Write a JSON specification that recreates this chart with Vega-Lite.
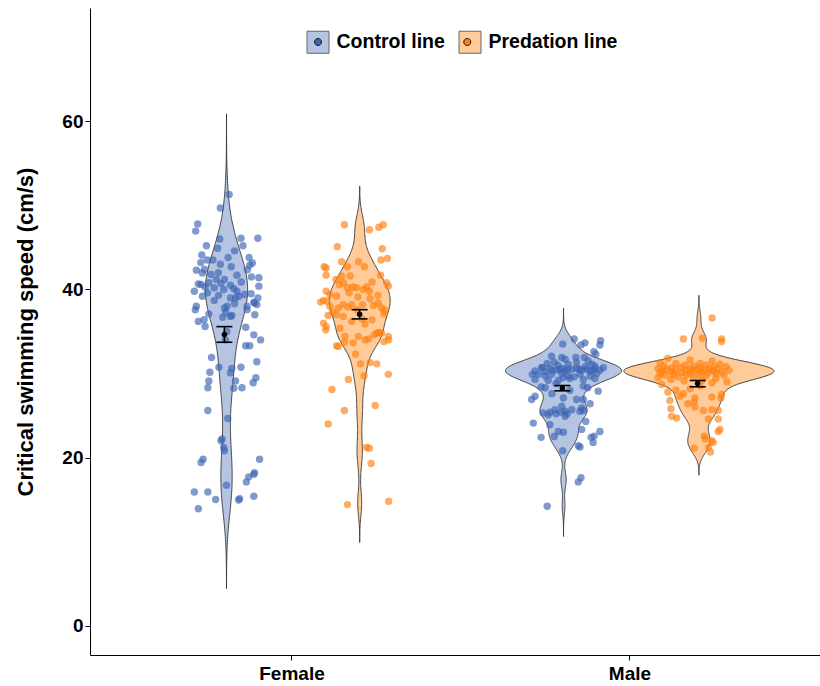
{
"$schema": "https://vega.github.io/schema/vega-lite/v6.json",
"width": 730, "height": 647,
"autosize": {"type": "none"},
"padding": {"left": 90, "top": 8, "right": 0, "bottom": 31},
"config": {"view": {"stroke": null}, "font": "Liberation Sans",
  "axisY": {"grid": false, "domainColor": "black", "tickColor": "black", "tickSize": 5, "labelFont": "Liberation Sans", "labelFontWeight": "bold", "labelFontSize": 19, "labelColor": "black", "labelPadding": 2, "titleFont": "Liberation Sans", "titleFontWeight": "bold", "titleFontSize": 22, "titleColor": "black", "titlePadding": 24}},
"data": {"values": [
{"sex":"Female","line":"Control line","speed":51.3,"jitter":0.014},{"sex":"Female","line":"Control line","speed":49.7,"jitter":-0.012},{"sex":"Female","line":"Control line","speed":47.8,"jitter":-0.079},{"sex":"Female","line":"Control line","speed":46.95,"jitter":-0.085},{"sex":"Female","line":"Control line","speed":46.1,"jitter":0.099},{"sex":"Female","line":"Control line","speed":46.1,"jitter":0.049},{"sex":"Female","line":"Control line","speed":46.0,"jitter":-0.014},{"sex":"Female","line":"Control line","speed":45.2,"jitter":-0.053},{"sex":"Female","line":"Control line","speed":45.2,"jitter":0.055},{"sex":"Female","line":"Control line","speed":44.1,"jitter":-0.067},
{"sex":"Female","line":"Control line","speed":43.8,"jitter":0.011},{"sex":"Female","line":"Control line","speed":43.8,"jitter":0.073},{"sex":"Female","line":"Control line","speed":43.5,"jitter":-0.034},{"sex":"Female","line":"Control line","speed":43.5,"jitter":-0.051},{"sex":"Female","line":"Control line","speed":43.15,"jitter":0.083},{"sex":"Female","line":"Control line","speed":42.9,"jitter":0.075},{"sex":"Female","line":"Control line","speed":43.0,"jitter":-0.012},{"sex":"Female","line":"Control line","speed":42.3,"jitter":-0.083},{"sex":"Female","line":"Control line","speed":42.4,"jitter":-0.059},{"sex":"Female","line":"Control line","speed":42.35,"jitter":0.068},
{"sex":"Female","line":"Control line","speed":41.96,"jitter":-0.065},{"sex":"Female","line":"Control line","speed":42.0,"jitter":-0.018},{"sex":"Female","line":"Control line","speed":41.4,"jitter":0.102},{"sex":"Female","line":"Control line","speed":41.7,"jitter":0.037},{"sex":"Female","line":"Control line","speed":41.2,"jitter":-0.024},{"sex":"Female","line":"Control line","speed":41.2,"jitter":0.0},{"sex":"Female","line":"Control line","speed":40.66,"jitter":-0.077},{"sex":"Female","line":"Control line","speed":40.8,"jitter":-0.046},{"sex":"Female","line":"Control line","speed":40.6,"jitter":-0.069},{"sex":"Female","line":"Control line","speed":40.5,"jitter":0.018},
{"sex":"Female","line":"Control line","speed":40.3,"jitter":-0.057},{"sex":"Female","line":"Control line","speed":40.4,"jitter":0.102},{"sex":"Female","line":"Control line","speed":40.1,"jitter":0.028},{"sex":"Female","line":"Control line","speed":40.2,"jitter":-0.03},{"sex":"Female","line":"Control line","speed":40.0,"jitter":-0.002},{"sex":"Female","line":"Control line","speed":39.8,"jitter":0.037},{"sex":"Female","line":"Control line","speed":39.8,"jitter":-0.089},{"sex":"Female","line":"Control line","speed":39.2,"jitter":-0.065},{"sex":"Female","line":"Control line","speed":39.0,"jitter":0.018},{"sex":"Female","line":"Control line","speed":39.0,"jitter":0.033},
{"sex":"Female","line":"Control line","speed":39.5,"jitter":0.079},{"sex":"Female","line":"Control line","speed":39.0,"jitter":0.099},{"sex":"Female","line":"Control line","speed":38.5,"jitter":0.087},{"sex":"Female","line":"Control line","speed":39.2,"jitter":0.043},{"sex":"Female","line":"Control line","speed":39.3,"jitter":-0.017},{"sex":"Female","line":"Control line","speed":38.0,"jitter":-0.083},{"sex":"Female","line":"Control line","speed":38.0,"jitter":0.008},{"sex":"Female","line":"Control line","speed":38.0,"jitter":0.067},{"sex":"Female","line":"Control line","speed":37.6,"jitter":-0.086},{"sex":"Female","line":"Control line","speed":37.1,"jitter":-0.046},
{"sex":"Female","line":"Control line","speed":37.3,"jitter":0.004},{"sex":"Female","line":"Control line","speed":36.9,"jitter":0.022},{"sex":"Female","line":"Control line","speed":36.7,"jitter":-0.005},{"sex":"Female","line":"Control line","speed":36.8,"jitter":0.018},{"sex":"Female","line":"Control line","speed":37.6,"jitter":0.067},{"sex":"Female","line":"Control line","speed":38.4,"jitter":0.089},{"sex":"Female","line":"Control line","speed":38.2,"jitter":0.096},{"sex":"Female","line":"Control line","speed":36.2,"jitter":-0.077},{"sex":"Female","line":"Control line","speed":35.6,"jitter":-0.057},{"sex":"Female","line":"Control line","speed":35.5,"jitter":0.063},
{"sex":"Female","line":"Control line","speed":35.0,"jitter":0.007},{"sex":"Female","line":"Control line","speed":34.0,"jitter":0.003},{"sex":"Female","line":"Control line","speed":34.6,"jitter":0.087},{"sex":"Female","line":"Control line","speed":34.0,"jitter":0.107},{"sex":"Female","line":"Control line","speed":33.3,"jitter":0.063},{"sex":"Female","line":"Control line","speed":33.3,"jitter":0.075},{"sex":"Female","line":"Control line","speed":31.9,"jitter":-0.038},{"sex":"Female","line":"Control line","speed":30.75,"jitter":-0.016},{"sex":"Female","line":"Control line","speed":31.4,"jitter":0.096},{"sex":"Female","line":"Control line","speed":30.75,"jitter":0.049},
{"sex":"Female","line":"Control line","speed":30.6,"jitter":0.022},{"sex":"Female","line":"Control line","speed":30.1,"jitter":0.018},{"sex":"Female","line":"Control line","speed":30.15,"jitter":-0.043},{"sex":"Female","line":"Control line","speed":29.1,"jitter":0.033},{"sex":"Female","line":"Control line","speed":28.25,"jitter":0.028},{"sex":"Female","line":"Control line","speed":29.1,"jitter":-0.046},{"sex":"Female","line":"Control line","speed":28.3,"jitter":-0.049},{"sex":"Female","line":"Control line","speed":29.5,"jitter":0.093},{"sex":"Female","line":"Control line","speed":28.9,"jitter":0.085},{"sex":"Female","line":"Control line","speed":28.3,"jitter":0.052},
{"sex":"Female","line":"Control line","speed":25.6,"jitter":-0.049},{"sex":"Female","line":"Control line","speed":24.65,"jitter":0.01},{"sex":"Female","line":"Control line","speed":22.2,"jitter":-0.007},{"sex":"Female","line":"Control line","speed":22.0,"jitter":-0.01},{"sex":"Female","line":"Control line","speed":21.2,"jitter":-0.002},{"sex":"Female","line":"Control line","speed":20.8,"jitter":0.0},{"sex":"Female","line":"Control line","speed":19.8,"jitter":-0.063},{"sex":"Female","line":"Control line","speed":19.4,"jitter":-0.069},{"sex":"Female","line":"Control line","speed":19.8,"jitter":0.104},{"sex":"Female","line":"Control line","speed":18.0,"jitter":0.087},
{"sex":"Female","line":"Control line","speed":17.7,"jitter":0.072},{"sex":"Female","line":"Control line","speed":17.1,"jitter":0.065},{"sex":"Female","line":"Control line","speed":18.2,"jitter":0.089},{"sex":"Female","line":"Control line","speed":16.7,"jitter":0.006},{"sex":"Female","line":"Control line","speed":15.9,"jitter":-0.089},{"sex":"Female","line":"Control line","speed":15.9,"jitter":-0.049},{"sex":"Female","line":"Control line","speed":15.0,"jitter":-0.026},{"sex":"Female","line":"Control line","speed":14.95,"jitter":0.042},{"sex":"Female","line":"Control line","speed":15.1,"jitter":0.045},{"sex":"Female","line":"Control line","speed":15.4,"jitter":0.087},{"sex":"Female","line":"Control line","speed":13.9,"jitter":-0.077},
{"sex":"Female","line":"Control line","speed":44.6,"jitter":0.03},{"sex":"Female","line":"Control line","speed":43.2,"jitter":-0.07},{"sex":"Female","line":"Control line","speed":42.7,"jitter":0.02},{"sex":"Female","line":"Control line","speed":41.8,"jitter":-0.04},{"sex":"Female","line":"Control line","speed":41.5,"jitter":0.08},{"sex":"Female","line":"Control line","speed":40.9,"jitter":0.05},{"sex":"Female","line":"Control line","speed":40.7,"jitter":-0.01},{"sex":"Female","line":"Control line","speed":39.6,"jitter":-0.05},{"sex":"Female","line":"Control line","speed":39.4,"jitter":0.06},{"sex":"Female","line":"Control line","speed":38.7,"jitter":-0.03},
{"sex":"Female","line":"Control line","speed":38.3,"jitter":0.03},{"sex":"Female","line":"Control line","speed":37.8,"jitter":0.0},{"sex":"Female","line":"Control line","speed":37.0,"jitter":0.09},{"sex":"Female","line":"Control line","speed":36.4,"jitter":-0.06},{"sex":"Female","line":"Control line","speed":44.9,"jitter":-0.02},

{"sex":"Female","line":"Predation line","speed":47.7,"jitter":-0.045},{"sex":"Female","line":"Predation line","speed":47.1,"jitter":0.029},{"sex":"Female","line":"Predation line","speed":47.4,"jitter":0.057},{"sex":"Female","line":"Predation line","speed":47.7,"jitter":0.07},{"sex":"Female","line":"Predation line","speed":45.1,"jitter":-0.066},{"sex":"Female","line":"Predation line","speed":44.85,"jitter":0.067},{"sex":"Female","line":"Predation line","speed":43.5,"jitter":0.063},{"sex":"Female","line":"Predation line","speed":43.7,"jitter":0.082},{"sex":"Female","line":"Predation line","speed":43.3,"jitter":-0.053},{"sex":"Female","line":"Predation line","speed":43.3,"jitter":-0.003},
{"sex":"Female","line":"Predation line","speed":42.7,"jitter":-0.105},{"sex":"Female","line":"Predation line","speed":42.55,"jitter":-0.099},{"sex":"Female","line":"Predation line","speed":42.7,"jitter":-0.036},{"sex":"Female","line":"Predation line","speed":42.7,"jitter":0.014},{"sex":"Female","line":"Predation line","speed":41.7,"jitter":-0.099},{"sex":"Female","line":"Predation line","speed":41.7,"jitter":0.062},{"sex":"Female","line":"Predation line","speed":41.6,"jitter":-0.053},{"sex":"Female","line":"Predation line","speed":41.6,"jitter":-0.028},{"sex":"Female","line":"Predation line","speed":41.2,"jitter":-0.07},{"sex":"Female","line":"Predation line","speed":40.8,"jitter":0.08},
{"sex":"Female","line":"Predation line","speed":40.4,"jitter":0.085},{"sex":"Female","line":"Predation line","speed":40.8,"jitter":-0.048},{"sex":"Female","line":"Predation line","speed":40.6,"jitter":-0.06},{"sex":"Female","line":"Predation line","speed":40.3,"jitter":-0.02},{"sex":"Female","line":"Predation line","speed":40.2,"jitter":-0.036},{"sex":"Female","line":"Predation line","speed":40.2,"jitter":-0.009},{"sex":"Female","line":"Predation line","speed":40.3,"jitter":0.021},{"sex":"Female","line":"Predation line","speed":39.8,"jitter":0.029},{"sex":"Female","line":"Predation line","speed":40.0,"jitter":0.011},{"sex":"Female","line":"Predation line","speed":39.8,"jitter":-0.099},
{"sex":"Female","line":"Predation line","speed":39.4,"jitter":-0.088},{"sex":"Female","line":"Predation line","speed":38.7,"jitter":-0.107},{"sex":"Female","line":"Predation line","speed":38.5,"jitter":-0.115},{"sex":"Female","line":"Predation line","speed":38.6,"jitter":-0.097},{"sex":"Female","line":"Predation line","speed":39.2,"jitter":-0.068},{"sex":"Female","line":"Predation line","speed":38.2,"jitter":-0.048},{"sex":"Female","line":"Predation line","speed":37.8,"jitter":-0.063},{"sex":"Female","line":"Predation line","speed":38.4,"jitter":0.055},{"sex":"Female","line":"Predation line","speed":37.8,"jitter":0.065},{"sex":"Female","line":"Predation line","speed":37.5,"jitter":0.075},
{"sex":"Female","line":"Predation line","speed":38.1,"jitter":0.041},{"sex":"Female","line":"Predation line","speed":38.2,"jitter":0.009},{"sex":"Female","line":"Predation line","speed":38.2,"jitter":-0.023},{"sex":"Female","line":"Predation line","speed":37.3,"jitter":-0.08},{"sex":"Female","line":"Predation line","speed":37.0,"jitter":-0.068},{"sex":"Female","line":"Predation line","speed":36.8,"jitter":-0.048},{"sex":"Female","line":"Predation line","speed":37.1,"jitter":0.072},{"sex":"Female","line":"Predation line","speed":36.0,"jitter":-0.107},{"sex":"Female","line":"Predation line","speed":35.6,"jitter":-0.099},{"sex":"Female","line":"Predation line","speed":36.2,"jitter":-0.023},
{"sex":"Female","line":"Predation line","speed":35.9,"jitter":0.016},{"sex":"Female","line":"Predation line","speed":34.8,"jitter":0.051},{"sex":"Female","line":"Predation line","speed":34.6,"jitter":0.043},{"sex":"Female","line":"Predation line","speed":34.4,"jitter":0.085},{"sex":"Female","line":"Predation line","speed":34.4,"jitter":-0.043},{"sex":"Female","line":"Predation line","speed":34.4,"jitter":-0.004},{"sex":"Female","line":"Predation line","speed":35.2,"jitter":-0.1},{"sex":"Female","line":"Predation line","speed":33.2,"jitter":-0.063},{"sex":"Female","line":"Predation line","speed":33.3,"jitter":-0.068},{"sex":"Female","line":"Predation line","speed":33.7,"jitter":-0.045},
{"sex":"Female","line":"Predation line","speed":33.65,"jitter":-0.019},{"sex":"Female","line":"Predation line","speed":34.0,"jitter":0.016},{"sex":"Female","line":"Predation line","speed":34.1,"jitter":0.026},{"sex":"Female","line":"Predation line","speed":34.9,"jitter":0.057},{"sex":"Female","line":"Predation line","speed":34.8,"jitter":0.065},{"sex":"Female","line":"Predation line","speed":33.8,"jitter":0.072},{"sex":"Female","line":"Predation line","speed":34.0,"jitter":0.086},{"sex":"Female","line":"Predation line","speed":32.3,"jitter":-0.012},{"sex":"Female","line":"Predation line","speed":31.15,"jitter":0.003},{"sex":"Female","line":"Predation line","speed":31.3,"jitter":0.031},
{"sex":"Female","line":"Predation line","speed":31.15,"jitter":0.051},{"sex":"Female","line":"Predation line","speed":29.9,"jitter":0.085},{"sex":"Female","line":"Predation line","speed":29.7,"jitter":0.013},{"sex":"Female","line":"Predation line","speed":29.3,"jitter":-0.033},{"sex":"Female","line":"Predation line","speed":28.1,"jitter":-0.082},{"sex":"Female","line":"Predation line","speed":25.6,"jitter":-0.045},{"sex":"Female","line":"Predation line","speed":26.2,"jitter":0.046},{"sex":"Female","line":"Predation line","speed":24.0,"jitter":-0.093},{"sex":"Female","line":"Predation line","speed":21.2,"jitter":0.021},{"sex":"Female","line":"Predation line","speed":21.1,"jitter":0.029},
{"sex":"Female","line":"Predation line","speed":19.3,"jitter":0.034},{"sex":"Female","line":"Predation line","speed":14.4,"jitter":-0.036},{"sex":"Female","line":"Predation line","speed":14.8,"jitter":0.086},{"sex":"Female","line":"Predation line","speed":39.6,"jitter":-0.031},{"sex":"Female","line":"Predation line","speed":39.1,"jitter":-0.005},{"sex":"Female","line":"Predation line","speed":38.9,"jitter":0.031},{"sex":"Female","line":"Predation line","speed":38.0,"jitter":-0.088},{"sex":"Female","line":"Predation line","speed":37.6,"jitter":-0.008},{"sex":"Female","line":"Predation line","speed":36.5,"jitter":0.007},{"sex":"Female","line":"Predation line","speed":36.4,"jitter":0.037},
{"sex":"Female","line":"Predation line","speed":37.9,"jitter":-0.034},{"sex":"Female","line":"Predation line","speed":39.3,"jitter":0.054},{"sex":"Female","line":"Predation line","speed":36.9,"jitter":-0.093},{"sex":"Female","line":"Predation line","speed":40.9,"jitter":0.037},{"sex":"Female","line":"Predation line","speed":35.4,"jitter":-0.058},

{"sex":"Male","line":"Control line","speed":33.5,"jitter":0.001},{"sex":"Male","line":"Control line","speed":34.1,"jitter":0.035},{"sex":"Male","line":"Control line","speed":33.65,"jitter":0.067},{"sex":"Male","line":"Control line","speed":33.4,"jitter":0.055},{"sex":"Male","line":"Control line","speed":33.9,"jitter":0.113},{"sex":"Male","line":"Control line","speed":33.4,"jitter":0.111},{"sex":"Male","line":"Control line","speed":32.6,"jitter":0.093},{"sex":"Male","line":"Control line","speed":32.3,"jitter":0.099},{"sex":"Male","line":"Control line","speed":32.05,"jitter":-0.032},{"sex":"Male","line":"Control line","speed":31.9,"jitter":-0.002},
{"sex":"Male","line":"Control line","speed":31.7,"jitter":0.008},{"sex":"Male","line":"Control line","speed":31.9,"jitter":0.04},{"sex":"Male","line":"Control line","speed":31.9,"jitter":0.065},{"sex":"Male","line":"Control line","speed":31.35,"jitter":-0.024},{"sex":"Male","line":"Control line","speed":31.2,"jitter":-0.045},{"sex":"Male","line":"Control line","speed":31.3,"jitter":0.042},{"sex":"Male","line":"Control line","speed":31.1,"jitter":0.017},{"sex":"Male","line":"Control line","speed":31.1,"jitter":0.087},{"sex":"Male","line":"Control line","speed":30.9,"jitter":0.096},{"sex":"Male","line":"Control line","speed":30.7,"jitter":-0.061},
{"sex":"Male","line":"Control line","speed":30.3,"jitter":-0.081},{"sex":"Male","line":"Control line","speed":29.9,"jitter":-0.089},{"sex":"Male","line":"Control line","speed":30.6,"jitter":-0.037},{"sex":"Male","line":"Control line","speed":30.4,"jitter":-0.017},{"sex":"Male","line":"Control line","speed":30.5,"jitter":-0.007},{"sex":"Male","line":"Control line","speed":30.3,"jitter":0.008},{"sex":"Male","line":"Control line","speed":30.5,"jitter":0.028},{"sex":"Male","line":"Control line","speed":30.6,"jitter":0.042},{"sex":"Male","line":"Control line","speed":30.4,"jitter":0.057},{"sex":"Male","line":"Control line","speed":30.5,"jitter":0.072},
{"sex":"Male","line":"Control line","speed":30.3,"jitter":0.082},{"sex":"Male","line":"Control line","speed":30.6,"jitter":0.096},{"sex":"Male","line":"Control line","speed":30.4,"jitter":0.111},{"sex":"Male","line":"Control line","speed":30.7,"jitter":0.121},{"sex":"Male","line":"Control line","speed":29.9,"jitter":-0.071},{"sex":"Male","line":"Control line","speed":29.7,"jitter":-0.051},{"sex":"Male","line":"Control line","speed":29.9,"jitter":-0.032},{"sex":"Male","line":"Control line","speed":30.0,"jitter":-0.002},{"sex":"Male","line":"Control line","speed":29.7,"jitter":0.017},{"sex":"Male","line":"Control line","speed":29.6,"jitter":0.035},
{"sex":"Male","line":"Control line","speed":29.9,"jitter":0.052},{"sex":"Male","line":"Control line","speed":29.7,"jitter":0.082},{"sex":"Male","line":"Control line","speed":29.3,"jitter":-0.081},{"sex":"Male","line":"Control line","speed":29.2,"jitter":-0.042},{"sex":"Male","line":"Control line","speed":29.2,"jitter":-0.012},{"sex":"Male","line":"Control line","speed":29.4,"jitter":0.022},{"sex":"Male","line":"Control line","speed":29.3,"jitter":0.062},{"sex":"Male","line":"Control line","speed":29.4,"jitter":0.096},{"sex":"Male","line":"Control line","speed":28.4,"jitter":-0.063},{"sex":"Male","line":"Control line","speed":28.3,"jitter":-0.051},
{"sex":"Male","line":"Control line","speed":28.5,"jitter":0.062},{"sex":"Male","line":"Control line","speed":28.3,"jitter":0.075},{"sex":"Male","line":"Control line","speed":27.9,"jitter":0.106},{"sex":"Male","line":"Control line","speed":27.3,"jitter":-0.081},{"sex":"Male","line":"Control line","speed":26.9,"jitter":-0.091},{"sex":"Male","line":"Control line","speed":27.1,"jitter":0.003},{"sex":"Male","line":"Control line","speed":26.9,"jitter":0.042},{"sex":"Male","line":"Control line","speed":26.9,"jitter":0.062},{"sex":"Male","line":"Control line","speed":25.7,"jitter":-0.022},{"sex":"Male","line":"Control line","speed":26.1,"jitter":-0.002},
{"sex":"Male","line":"Control line","speed":25.5,"jitter":0.008},{"sex":"Male","line":"Control line","speed":25.7,"jitter":0.028},{"sex":"Male","line":"Control line","speed":25.9,"jitter":0.057},{"sex":"Male","line":"Control line","speed":25.1,"jitter":-0.042},{"sex":"Male","line":"Control line","speed":24.9,"jitter":0.008},{"sex":"Male","line":"Control line","speed":25.3,"jitter":-0.057},{"sex":"Male","line":"Control line","speed":25.4,"jitter":-0.037},{"sex":"Male","line":"Control line","speed":25.2,"jitter":-0.019},{"sex":"Male","line":"Control line","speed":25.4,"jitter":-0.004},{"sex":"Male","line":"Control line","speed":25.2,"jitter":0.014},
{"sex":"Male","line":"Control line","speed":25.5,"jitter":0.052},{"sex":"Male","line":"Control line","speed":25.6,"jitter":0.062},{"sex":"Male","line":"Control line","speed":24.1,"jitter":-0.086},{"sex":"Male","line":"Control line","speed":23.9,"jitter":-0.037},{"sex":"Male","line":"Control line","speed":24.3,"jitter":0.069},{"sex":"Male","line":"Control line","speed":23.1,"jitter":-0.012},{"sex":"Male","line":"Control line","speed":23.0,"jitter":0.003},{"sex":"Male","line":"Control line","speed":23.35,"jitter":0.057},{"sex":"Male","line":"Control line","speed":22.4,"jitter":-0.063},{"sex":"Male","line":"Control line","speed":22.5,"jitter":-0.024},
{"sex":"Male","line":"Control line","speed":22.4,"jitter":0.085},{"sex":"Male","line":"Control line","speed":22.55,"jitter":0.094},{"sex":"Male","line":"Control line","speed":23.1,"jitter":0.111},{"sex":"Male","line":"Control line","speed":21.8,"jitter":0.091},{"sex":"Male","line":"Control line","speed":20.8,"jitter":0.001},{"sex":"Male","line":"Control line","speed":21.4,"jitter":0.047},{"sex":"Male","line":"Control line","speed":21.25,"jitter":0.052},{"sex":"Male","line":"Control line","speed":17.6,"jitter":0.055},{"sex":"Male","line":"Control line","speed":17.1,"jitter":0.047},{"sex":"Male","line":"Control line","speed":14.2,"jitter":-0.045},
{"sex":"Male","line":"Control line","speed":31.0,"jitter":-0.013},{"sex":"Male","line":"Control line","speed":30.8,"jitter":0.067},{"sex":"Male","line":"Control line","speed":30.2,"jitter":-0.051},{"sex":"Male","line":"Control line","speed":31.5,"jitter":0.076},{"sex":"Male","line":"Control line","speed":30.0,"jitter":0.102},{"sex":"Male","line":"Control line","speed":29.5,"jitter":0.002},{"sex":"Male","line":"Control line","speed":28.8,"jitter":-0.019},{"sex":"Male","line":"Control line","speed":28.0,"jitter":0.022},{"sex":"Male","line":"Control line","speed":27.6,"jitter":-0.031},{"sex":"Male","line":"Control line","speed":26.4,"jitter":0.082},
{"sex":"Male","line":"Control line","speed":30.4,"jitter":-0.03},{"sex":"Male","line":"Control line","speed":30.6,"jitter":0.0},{"sex":"Male","line":"Control line","speed":30.5,"jitter":0.05},{"sex":"Male","line":"Control line","speed":30.3,"jitter":0.09},{"sex":"Male","line":"Control line","speed":30.7,"jitter":-0.06},{"sex":"Male","line":"Control line","speed":30.5,"jitter":0.015},

{"sex":"Male","line":"Predation line","speed":36.6,"jitter":0.043},{"sex":"Male","line":"Predation line","speed":34.1,"jitter":-0.042},{"sex":"Male","line":"Predation line","speed":34.2,"jitter":0.014},{"sex":"Male","line":"Predation line","speed":34.1,"jitter":0.071},{"sex":"Male","line":"Predation line","speed":33.8,"jitter":0.071},{"sex":"Male","line":"Predation line","speed":31.8,"jitter":-0.088},{"sex":"Male","line":"Predation line","speed":31.6,"jitter":-0.022},{"sex":"Male","line":"Predation line","speed":31.5,"jitter":0.043},{"sex":"Male","line":"Predation line","speed":31.3,"jitter":-0.111},{"sex":"Male","line":"Predation line","speed":31.2,"jitter":-0.064},
{"sex":"Male","line":"Predation line","speed":31.2,"jitter":0.007},{"sex":"Male","line":"Predation line","speed":31.1,"jitter":0.066},{"sex":"Male","line":"Predation line","speed":31.0,"jitter":-0.037},{"sex":"Male","line":"Predation line","speed":31.0,"jitter":0.025},{"sex":"Male","line":"Predation line","speed":30.9,"jitter":-0.099},{"sex":"Male","line":"Predation line","speed":30.9,"jitter":-0.011},{"sex":"Male","line":"Predation line","speed":30.8,"jitter":0.049},{"sex":"Male","line":"Predation line","speed":30.8,"jitter":0.084},{"sex":"Male","line":"Predation line","speed":30.7,"jitter":-0.076},{"sex":"Male","line":"Predation line","speed":30.7,"jitter":-0.049},
{"sex":"Male","line":"Predation line","speed":30.7,"jitter":0.007},{"sex":"Male","line":"Predation line","speed":30.6,"jitter":-0.117},{"sex":"Male","line":"Predation line","speed":30.6,"jitter":-0.022},{"sex":"Male","line":"Predation line","speed":30.6,"jitter":0.034},{"sex":"Male","line":"Predation line","speed":30.5,"jitter":-0.091},{"sex":"Male","line":"Predation line","speed":30.5,"jitter":-0.002},{"sex":"Male","line":"Predation line","speed":30.5,"jitter":0.06},{"sex":"Male","line":"Predation line","speed":30.4,"jitter":-0.064},{"sex":"Male","line":"Predation line","speed":30.4,"jitter":-0.034},{"sex":"Male","line":"Predation line","speed":30.4,"jitter":0.019},
{"sex":"Male","line":"Predation line","speed":30.4,"jitter":0.093},{"sex":"Male","line":"Predation line","speed":30.3,"jitter":-0.105},{"sex":"Male","line":"Predation line","speed":30.3,"jitter":-0.014},{"sex":"Male","line":"Predation line","speed":30.3,"jitter":0.046},{"sex":"Male","line":"Predation line","speed":30.2,"jitter":-0.079},{"sex":"Male","line":"Predation line","speed":30.2,"jitter":0.01},{"sex":"Male","line":"Predation line","speed":30.2,"jitter":0.072},{"sex":"Male","line":"Predation line","speed":30.1,"jitter":-0.046},{"sex":"Male","line":"Predation line","speed":30.1,"jitter":0.031},{"sex":"Male","line":"Predation line","speed":30.0,"jitter":-0.111},
{"sex":"Male","line":"Predation line","speed":30.0,"jitter":-0.022},{"sex":"Male","line":"Predation line","speed":30.0,"jitter":0.054},{"sex":"Male","line":"Predation line","speed":29.9,"jitter":-0.07},{"sex":"Male","line":"Predation line","speed":29.9,"jitter":0.004},{"sex":"Male","line":"Predation line","speed":29.8,"jitter":-0.096},{"sex":"Male","line":"Predation line","speed":29.8,"jitter":-0.034},{"sex":"Male","line":"Predation line","speed":29.8,"jitter":0.078},{"sex":"Male","line":"Predation line","speed":29.7,"jitter":0.025},{"sex":"Male","line":"Predation line","speed":29.6,"jitter":-0.058},{"sex":"Male","line":"Predation line","speed":29.5,"jitter":-0.011},
{"sex":"Male","line":"Predation line","speed":29.5,"jitter":-0.117},{"sex":"Male","line":"Predation line","speed":29.4,"jitter":0.054},{"sex":"Male","line":"Predation line","speed":29.3,"jitter":-0.079},{"sex":"Male","line":"Predation line","speed":29.2,"jitter":0.013},{"sex":"Male","line":"Predation line","speed":29.1,"jitter":-0.04},{"sex":"Male","line":"Predation line","speed":29.0,"jitter":0.087},{"sex":"Male","line":"Predation line","speed":28.7,"jitter":-0.106},{"sex":"Male","line":"Predation line","speed":27.8,"jitter":-0.088},{"sex":"Male","line":"Predation line","speed":27.6,"jitter":-0.042},{"sex":"Male","line":"Predation line","speed":27.3,"jitter":-0.052},
{"sex":"Male","line":"Predation line","speed":26.8,"jitter":-0.082},{"sex":"Male","line":"Predation line","speed":26.4,"jitter":-0.029},{"sex":"Male","line":"Predation line","speed":26.6,"jitter":-0.01},{"sex":"Male","line":"Predation line","speed":27.1,"jitter":-0.008},{"sex":"Male","line":"Predation line","speed":27.2,"jitter":0.042},{"sex":"Male","line":"Predation line","speed":27.5,"jitter":0.071},{"sex":"Male","line":"Predation line","speed":27.1,"jitter":0.069},{"sex":"Male","line":"Predation line","speed":26.0,"jitter":-0.008},{"sex":"Male","line":"Predation line","speed":25.6,"jitter":0.017},{"sex":"Male","line":"Predation line","speed":25.7,"jitter":0.042},
{"sex":"Male","line":"Predation line","speed":25.6,"jitter":0.061},{"sex":"Male","line":"Predation line","speed":25.8,"jitter":-0.079},{"sex":"Male","line":"Predation line","speed":24.9,"jitter":-0.077},{"sex":"Male","line":"Predation line","speed":24.7,"jitter":-0.062},{"sex":"Male","line":"Predation line","speed":24.6,"jitter":0.032},{"sex":"Male","line":"Predation line","speed":24.6,"jitter":0.061},{"sex":"Male","line":"Predation line","speed":23.35,"jitter":0.066},{"sex":"Male","line":"Predation line","speed":23.1,"jitter":0.061},
{"sex":"Male","line":"Predation line","speed":22.55,"jitter":0.02},{"sex":"Male","line":"Predation line","speed":22.2,"jitter":0.022},{"sex":"Male","line":"Predation line","speed":22.0,"jitter":0.042},{"sex":"Male","line":"Predation line","speed":21.8,"jitter":0.046},{"sex":"Male","line":"Predation line","speed":21.1,"jitter":-0.01},{"sex":"Male","line":"Predation line","speed":21.2,"jitter":0.032},{"sex":"Male","line":"Predation line","speed":20.65,"jitter":0.038},{"sex":"Male","line":"Predation line","speed":28.5,"jitter":0.007},{"sex":"Male","line":"Predation line","speed":28.2,"jitter":-0.022},{"sex":"Male","line":"Predation line","speed":28.9,"jitter":0.043},
{"sex":"Male","line":"Predation line","speed":28.0,"jitter":-0.064}
]},
"resolve": {"scale": {"x": "independent", "xOffset": "independent"}},
"layer": [
{
 "transform": [{"filter": "datum.sex === 'Female' && datum.line === 'Control line'"},
   {"density": "speed", "groupby": ["line"], "bandwidth": 3.2, "extent": [4.4, 60.9], "steps": 300, "as": ["speed", "density"]}],
 "mark": {"type": "area", "orient": "horizontal", "stroke": "#333333", "strokeWidth": 0.9},
 "encoding": {
  "y": {"field": "speed", "type": "quantitative", "scale": {"domain": [-3.5, 73.5], "nice": false, "zero": false}, "axis": {"values": [0, 20, 40, 60], "title": "Critical swimming speed (cm/s)"}},
  "x": {"field": "density", "type": "quantitative", "stack": "center", "scale": {"domain": [-0.16027, 0.85362], "nice": false, "zero": false}, "axis": null},
  "color": {"field": "line", "type": "nominal", "scale": {"domain": ["Control line", "Predation line"], "range": ["#b4c4e2", "#ffcc99"]},
    "legend": {"orient": "none", "legendX": 216.5, "legendY": 22.5, "direction": "horizontal", "title": null, "symbolType": "square", "symbolSize": 484, "symbolStrokeColor": "#666666", "symbolStrokeWidth": 1, "symbolOpacity": 1, "labelFont": "Liberation Sans", "labelFontSize": 19.5, "labelFontWeight": "bold", "labelColor": "black", "labelOffset": 7, "columnPadding": 11, "padding": 0, "zindex": 1}}
 }
},
{
 "transform": [{"filter": "datum.sex === 'Female' && datum.line === 'Predation line'"},
   {"density": "speed", "groupby": ["line"], "bandwidth": 1.5, "extent": [9.9, 52.3], "steps": 300, "as": ["speed", "density"]}],
 "mark": {"type": "area", "orient": "horizontal", "stroke": "#333333", "strokeWidth": 0.9},
 "encoding": {
  "y": {"field": "speed", "type": "quantitative", "scale": {"domain": [-3.5, 73.5], "nice": false, "zero": false}, "axis": {"values": [0, 20, 40, 60], "title": "Critical swimming speed (cm/s)"}},
  "x": {"field": "density", "type": "quantitative", "stack": "center", "scale": {"domain": [-0.33224, 0.68165], "nice": false, "zero": false}, "axis": null},
  "color": {"field": "line", "type": "nominal", "scale": {"domain": ["Control line", "Predation line"], "range": ["#b4c4e2", "#ffcc99"]}, "legend": null}
 }
},
{
 "transform": [{"filter": "datum.sex === 'Male' && datum.line === 'Control line'"},
   {"density": "speed", "groupby": ["line"], "bandwidth": 1.0, "extent": [10.6, 37.8], "steps": 300, "as": ["speed", "density"]}],
 "mark": {"type": "area", "orient": "horizontal", "stroke": "#333333", "strokeWidth": 0.9},
 "encoding": {
  "y": {"field": "speed", "type": "quantitative", "scale": {"domain": [-3.5, 73.5], "nice": false, "zero": false}, "axis": {"values": [0, 20, 40, 60], "title": "Critical swimming speed (cm/s)"}},
  "x": {"field": "density", "type": "quantitative", "stack": "center", "scale": {"domain": [-0.57711, 0.43678], "nice": false, "zero": false}, "axis": null},
  "color": {"field": "line", "type": "nominal", "scale": {"domain": ["Control line", "Predation line"], "range": ["#b4c4e2", "#ffcc99"]}, "legend": null}
 }
},
{
 "transform": [{"filter": "datum.sex === 'Male' && datum.line === 'Predation line'"},
   {"density": "speed", "groupby": ["line"], "bandwidth": 0.9, "extent": [17.9, 39.3], "steps": 300, "as": ["speed", "density"]}],
 "mark": {"type": "area", "orient": "horizontal", "stroke": "#333333", "strokeWidth": 0.9},
 "encoding": {
  "y": {"field": "speed", "type": "quantitative", "scale": {"domain": [-3.5, 73.5], "nice": false, "zero": false}, "axis": {"values": [0, 20, 40, 60], "title": "Critical swimming speed (cm/s)"}},
  "x": {"field": "density", "type": "quantitative", "stack": "center", "scale": {"domain": [-0.74139, 0.2725], "nice": false, "zero": false}, "axis": null},
  "color": {"field": "line", "type": "nominal", "scale": {"domain": ["Control line", "Predation line"], "range": ["#b4c4e2", "#ffcc99"]}, "legend": null}
 }
},
{
 "transform": [{"filter": "datum.line === 'Control line'"}],
 "mark": {"type": "point", "filled": true, "size": 55, "opacity": 0.65, "strokeWidth": 0},
 "encoding": {
  "x": {"field": "sex", "type": "nominal", "scale": {"domain": ["Female", "Male"], "paddingInner": 0, "paddingOuter": 0.0799, "align": 0.611},
        "axis": {"title": null, "labelAngle": 0, "grid": false, "labelFont": "Liberation Sans", "labelFontSize": 19, "labelFontWeight": "bold", "labelColor": "black", "tickColor": "black", "tickSize": 5, "domainColor": "black", "labelPadding": 4}},
  "xOffset": {"field": "jitter", "type": "quantitative", "scale": {"domain": [-0.3, 0.7], "nice": false, "zero": false}},
  "y": {"field": "speed", "type": "quantitative", "scale": {"domain": [-3.5, 73.5], "nice": false, "zero": false}, "axis": {"values": [0, 20, 40, 60], "title": "Critical swimming speed (cm/s)"}},
  "fill": {"field": "line", "type": "nominal", "scale": {"range": ["#3c64b4", "#ff7f0e"]},
    "legend": {"orient": "none", "legendX": 216.5, "legendY": 22.5, "direction": "horizontal", "title": null, "symbolType": "M -0.32 0 A 0.32 0.32 0 1 0 0.32 0 A 0.32 0.32 0 1 0 -0.32 0 Z", "symbolSize": 484, "symbolStrokeColor": "#1a1a1a", "symbolStrokeWidth": 1, "symbolOpacity": 1, "labelFont": "Liberation Sans", "labelFontSize": 19.5, "labelFontWeight": "bold", "labelColor": "black", "labelOpacity": 0, "labelExpr": "'                    '", "labelOffset": 7, "columnPadding": 119.3, "padding": 0, "zindex": 2}}
 }
},
{
 "transform": [{"filter": "datum.line === 'Predation line'"}],
 "mark": {"type": "point", "filled": true, "size": 55, "opacity": 0.65, "strokeWidth": 0},
 "encoding": {
  "x": {"field": "sex", "type": "nominal", "scale": {"domain": ["Female", "Male"], "paddingInner": 0, "paddingOuter": 0.0799, "align": 0.611}, "axis": null},
  "xOffset": {"field": "jitter", "type": "quantitative", "scale": {"domain": [-0.7, 0.3], "nice": false, "zero": false}},
  "y": {"field": "speed", "type": "quantitative", "scale": {"domain": [-3.5, 73.5], "nice": false, "zero": false}, "axis": {"values": [0, 20, 40, 60], "title": "Critical swimming speed (cm/s)"}},
  "fill": {"field": "line", "type": "nominal", "scale": {"range": ["#3c64b4", "#ff7f0e"]}, "legend": null}
 }
},
{
 "data": {"values": [
   {"sex": "Female", "line": "Control line", "mean": 34.65, "lo": 33.72, "hi": 35.58},
   {"sex": "Female", "line": "Predation line", "mean": 37.05, "lo": 36.5, "hi": 37.6},
   {"sex": "Male", "line": "Control line", "mean": 28.26, "lo": 27.94, "hi": 28.57},
   {"sex": "Male", "line": "Predation line", "mean": 28.8, "lo": 28.42, "hi": 29.17}
 ]},
 "encoding": {
  "x": {"field": "sex", "type": "nominal", "scale": {"domain": ["Female", "Male"], "paddingInner": 0, "paddingOuter": 0.0799, "align": 0.611}, "axis": null},
  "xOffset": {"field": "line", "type": "nominal", "scale": {"domain": ["Control line", "Predation line"], "paddingInner": 0, "paddingOuter": 0.25}}
 },
 "layer": [
  {"mark": {"type": "rule", "color": "black", "strokeWidth": 1.5},
   "encoding": {"y": {"field": "lo", "type": "quantitative", "scale": {"domain": [-3.5, 73.5], "nice": false, "zero": false}, "axis": {"values": [0, 20, 40, 60], "title": "Critical swimming speed (cm/s)"}}, "y2": {"field": "hi"}}},
  {"mark": {"type": "tick", "color": "black", "size": 16, "thickness": 1.6, "orient": "horizontal", "opacity": 1},
   "encoding": {"y": {"field": "lo", "type": "quantitative", "scale": {"domain": [-3.5, 73.5], "nice": false, "zero": false}, "axis": {"values": [0, 20, 40, 60], "title": "Critical swimming speed (cm/s)"}}}},
  {"mark": {"type": "tick", "color": "black", "size": 16, "thickness": 1.6, "orient": "horizontal", "opacity": 1},
   "encoding": {"y": {"field": "hi", "type": "quantitative", "scale": {"domain": [-3.5, 73.5], "nice": false, "zero": false}, "axis": {"values": [0, 20, 40, 60], "title": "Critical swimming speed (cm/s)"}}}},
  {"mark": {"type": "point", "filled": true, "color": "black", "size": 30, "opacity": 1},
   "encoding": {"y": {"field": "mean", "type": "quantitative", "scale": {"domain": [-3.5, 73.5], "nice": false, "zero": false}, "axis": {"values": [0, 20, 40, 60], "title": "Critical swimming speed (cm/s)"}}}}
 ]
}
]
}
